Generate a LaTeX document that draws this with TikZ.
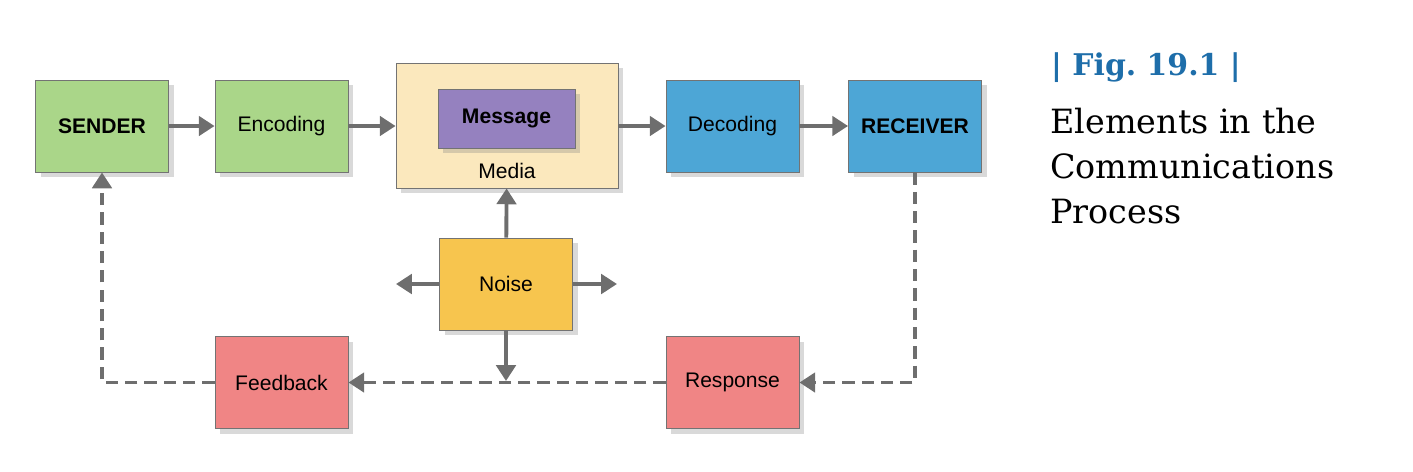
\documentclass[tikz,border=0pt]{standalone}
\usepackage{fontspec}
\setmainfont{DejaVu Serif}
\newfontfamily\boxfont{Liberation Sans}
\usetikzlibrary{arrows.meta,shadows}
\definecolor{cgreen}{RGB}{170,214,137}
\definecolor{cmedia}{RGB}{251,232,189}
\definecolor{cmsg}{RGB}{149,129,191}
\definecolor{cblue}{RGB}{77,166,214}
\definecolor{cnoise}{RGB}{247,197,78}
\definecolor{cpink}{RGB}{240,133,133}
\definecolor{carrow}{RGB}{110,110,110}
\definecolor{cfig}{RGB}{30,110,170}
\begin{document}
\begin{tikzpicture}[x=0.02cm,y=-0.02cm,
  box/.style={draw=black!55,line width=0.5pt,minimum width=2.66cm,minimum height=1.84cm,inner sep=0pt,font=\boxfont\fontsize{12}{14}\selectfont,drop shadow={shadow xshift=3pt,shadow yshift=-3pt,opacity=0.3}},
  arr/.style={draw=carrow,line width=2.2pt,-{Triangle[length=9pt,width=11pt]}},
  darr/.style={arr,dash pattern=on 7pt off 4pt}]
\useasboundingbox (0,0) rectangle (1413,471);
\node[box,fill=cgreen,font=\boxfont\bfseries\fontsize{12}{14}\selectfont] (s) at (102,126) {SENDER};
\node[box,fill=cgreen] (e) at (281.5,126) {Encoding};
\node[box,fill=cmedia,minimum width=4.44cm,minimum height=2.5cm] (m) at (507,125.5) {};
\node[font=\boxfont\fontsize{12}{14}\selectfont] (ml) at (507,171) {Media};
\node[box,fill=cmsg,minimum width=2.74cm,minimum height=1.18cm,font=\boxfont\bfseries\fontsize{12}{14}\selectfont] (msg) at (506.5,118.5) {Message};
\node[box,fill=cblue] (d) at (732.5,126) {Decoding};
\node[box,fill=cblue,font=\boxfont\bfseries\fontsize{12}{14}\selectfont] (r) at (915,126) {RECEIVER};
\node[box,fill=cnoise] (n) at (506,284) {Noise};
\node[box,fill=cpink] (f) at (281.5,382.5) {Feedback};
\node[box,fill=cpink] (rs) at (732.5,382.5) {Response};
\coordinate (nl) at (396,284);
\coordinate (nr) at (617,284);
\coordinate (nd) at (506,381);
\draw[arr] (n) -- (m);
\draw[arr] (s) -- (e);
\draw[arr] (e) -- (e -| m.west);
\draw[arr] (m.east |- d) -- (d);
\draw[arr] (d) -- (r);
\draw[arr] (n) -- (nl);
\draw[arr] (n) -- (nr);
\draw[darr] (r.south) |- (rs.east);
\draw[darr] (rs) -- (f);
\draw[darr] (f.west) -| (s.south);
\draw[arr] (n) -- (nd);
\node[anchor=west,text=cfig,font=\bfseries\fontsize{17}{20}\selectfont] (fig) at (1045,68) {| Fig.\ 19.1 |};
\node[anchor=north west,align=left,font=\fontsize{19}{25.5}\selectfont,inner sep=0pt] (t) at (1050,108) {Elements in the\\Communications\\Process};
\end{tikzpicture}
\end{document}
